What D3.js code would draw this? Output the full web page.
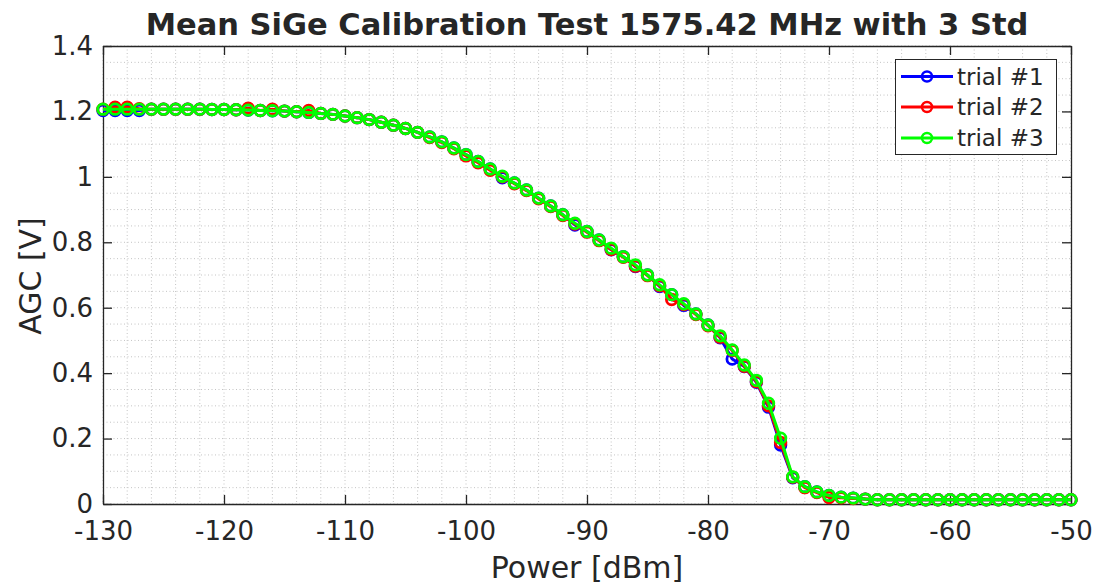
<!DOCTYPE html>
<html>
<head>
<meta charset="utf-8">
<script src="https://cdn.jsdelivr.net/npm/d3@7"></script>
<style>
  html, body { margin: 0; padding: 0; background: #fff; }
  svg { display: block; }
  text { font-family: "DejaVu Sans", sans-serif; fill: #262626; }
</style>
</head>
<body>
<svg id="chart" width="1098" height="586"></svg>
<script>
const titleText = "Mean SiGe Calibration Test 1575.42 MHz with 3 Std";
const xLabelText = "Power [dBm]";
const yLabelText = "AGC [V]";
const seriesNames = ["trial #1", "trial #2", "trial #3"];
const seriesColors = ["#0000ff", "#ff0000", "#00ff00"];

const xTicks = [-130, -120, -110, -100, -90, -80, -70, -60, -50];
const xTickLabels = ["-130", "-120", "-110", "-100", "-90", "-80", "-70", "-60", "-50"];
const yTicks = [0, 0.2, 0.4, 0.6, 0.8, 1, 1.2, 1.4];
const yTickLabels = ["0", "0.2", "0.4", "0.6", "0.8", "1", "1.2", "1.4"];

const power = [-130,-129,-128,-127,-126,-125,-124,-123,-122,-121,
  -120,-119,-118,-117,-116,-115,-114,-113,-112,-111,
  -110,-109,-108,-107,-106,-105,-104,-103,-102,-101,
  -100,-99,-98,-97,-96,-95,-94,-93,-92,-91,
  -90,-89,-88,-87,-86,-85,-84,-83,-82,-81,
  -80,-79,-78,-77,-76,-75,-74,-73,-72,-71,
  -70,-69,-68,-67,-66,-65,-64,-63,-62,-61,
  -60,-59,-58,-57,-56,-55,-54,-53,-52,-51,-50];

const trial1 = [1.203,1.203,1.203,1.203,1.207,1.207,1.207,1.207,1.207,1.206,
  1.206,1.205,1.204,1.203,1.202,1.201,1.199,1.197,1.194,1.191,
  1.186,1.181,1.175,1.167,1.158,1.148,1.136,1.122,1.107,1.088,
  1.068,1.047,1.024,0.997,0.981,0.960,0.935,0.911,0.884,0.853,
  0.833,0.807,0.777,0.756,0.726,0.700,0.665,0.640,0.607,0.581,
  0.547,0.508,0.443,0.420,0.372,0.296,0.180,0.080,0.053,0.037,
  0.026,0.021,0.018,0.015,0.013,0.013,0.013,0.013,0.013,0.013,
  0.013,0.013,0.013,0.013,0.013,0.013,0.013,0.013,0.013,0.013,0.013];

const trial2 = [1.207,1.213,1.213,1.208,1.207,1.207,1.207,1.207,1.207,1.206,
  1.206,1.205,1.210,1.203,1.207,1.201,1.199,1.203,1.194,1.191,
  1.186,1.181,1.175,1.167,1.158,1.148,1.136,1.120,1.105,1.086,
  1.064,1.043,1.020,1.000,0.979,0.958,0.933,0.909,0.882,0.856,
  0.831,0.805,0.778,0.754,0.727,0.698,0.667,0.625,0.610,0.579,
  0.545,0.510,0.469,0.421,0.374,0.300,0.188,0.082,0.050,0.035,
  0.020,0.019,0.017,0.015,0.013,0.013,0.013,0.013,0.013,0.013,
  0.013,0.013,0.013,0.013,0.013,0.013,0.013,0.013,0.013,0.013,0.013];

const trial3 = [1.207,1.207,1.207,1.207,1.207,1.207,1.207,1.207,1.207,1.206,
  1.206,1.205,1.204,1.203,1.202,1.201,1.199,1.197,1.194,1.191,
  1.186,1.181,1.175,1.167,1.158,1.148,1.136,1.122,1.107,1.088,
  1.068,1.047,1.024,1.002,0.981,0.960,0.935,0.911,0.884,0.858,
  0.833,0.807,0.782,0.756,0.731,0.700,0.670,0.640,0.612,0.581,
  0.547,0.514,0.471,0.425,0.378,0.308,0.201,0.083,0.053,0.037,
  0.026,0.021,0.018,0.015,0.013,0.013,0.013,0.013,0.013,0.013,
  0.013,0.013,0.013,0.013,0.013,0.013,0.013,0.013,0.013,0.013,0.013];

const allSeries = [trial1, trial2, trial3];

const svg = d3.select("#chart");
const L = 103, R = 1071, T = 46, B = 504;
const x = d3.scaleLinear().domain([-130, -50]).range([L, R]);
const y = d3.scaleLinear().domain([0, 1.4]).range([B, T]);
const axisColor = "#262626";

// grid (minor + major, dotted)
const gridX = d3.range(-130, -49, 2);
const gridY = d3.range(0, 1.4001, 0.05);
const grid = svg.append("g");
grid.selectAll("line.gx").data(gridX).join("line")
  .attr("x1", d => x(d)).attr("x2", d => x(d)).attr("y1", T).attr("y2", B)
  .attr("stroke", "#c4c4c4").attr("stroke-width", 1).attr("stroke-dasharray", "1,2.5");
grid.selectAll("line.gy").data(gridY).join("line")
  .attr("y1", d => y(d)).attr("y2", d => y(d)).attr("x1", L).attr("x2", R)
  .attr("stroke", "#c4c4c4").attr("stroke-width", 1).attr("stroke-dasharray", "1,2.5");

// axes
const tickLen = 9;
const xAxis = svg.append("g").attr("transform", `translate(0,${B})`)
  .call(d3.axisBottom(x).tickValues(xTicks).tickFormat((d, i) => xTickLabels[i])
    .tickSizeInner(-tickLen).tickSizeOuter(0).tickPadding(18));
const xAxisTop = svg.append("g").attr("transform", `translate(0,${T})`)
  .call(d3.axisTop(x).tickValues(xTicks).tickFormat("").tickSizeInner(-tickLen).tickSizeOuter(0));
const yAxis = svg.append("g").attr("transform", `translate(${L},0)`)
  .call(d3.axisLeft(y).tickValues(yTicks).tickFormat((d, i) => yTickLabels[i])
    .tickSizeInner(-tickLen).tickSizeOuter(0).tickPadding(10));
const yAxisRight = svg.append("g").attr("transform", `translate(${R},0)`)
  .call(d3.axisRight(y).tickValues(yTicks).tickFormat("").tickSizeInner(-tickLen).tickSizeOuter(0));

[xAxis, xAxisTop, yAxis, yAxisRight].forEach(g => {
  g.select(".domain").attr("stroke", axisColor).attr("stroke-width", 1.3);
  g.selectAll(".tick line").attr("stroke", axisColor).attr("stroke-width", 1.3);
  g.selectAll("text").attr("font-family", "DejaVu Sans").attr("font-size", 26).attr("fill", axisColor);
});
xAxis.selectAll("text").attr("dy", "0.71em");

// series
const line = d3.line().x((d, i) => x(power[i])).y(d => y(d));
allSeries.forEach((vals, k) => {
  const g = svg.append("g");
  g.append("path").datum(vals).attr("d", line)
    .attr("fill", "none").attr("stroke", seriesColors[k]).attr("stroke-width", 3)
    .attr("stroke-linejoin", "round");
  g.selectAll("circle").data(vals).join("circle")
    .attr("cx", (d, i) => x(power[i])).attr("cy", d => y(d)).attr("r", 5.3)
    .attr("fill", "none").attr("stroke", seriesColors[k]).attr("stroke-width", 2.8);
});

// title and labels
svg.append("text").attr("x", (L + R) / 2).attr("y", 35).attr("text-anchor", "middle")
  .attr("font-weight", "bold").attr("font-size", 30.5).attr("fill", "#000").text(titleText);
svg.append("text").attr("x", (L + R) / 2).attr("y", 578).attr("text-anchor", "middle")
  .attr("font-size", 30).attr("fill", axisColor).text(xLabelText);
svg.append("text").attr("transform", `translate(41,276) rotate(-90)`).attr("text-anchor", "middle")
  .attr("font-size", 30).attr("fill", axisColor).text(yLabelText);

// legend
const lg = svg.append("g");
lg.append("rect").attr("x", 895.5).attr("y", 59.5).attr("width", 161).attr("height", 95)
  .attr("fill", "#fff").attr("stroke", axisColor).attr("stroke-width", 1);
const legY = [76.5, 107, 138];
seriesNames.forEach((name, k) => {
  lg.append("line").attr("x1", 901).attr("x2", 953).attr("y1", legY[k]).attr("y2", legY[k])
    .attr("stroke", seriesColors[k]).attr("stroke-width", 3);
  lg.append("circle").attr("cx", 927).attr("cy", legY[k]).attr("r", 5)
    .attr("fill", "none").attr("stroke", seriesColors[k]).attr("stroke-width", 2.5);
  lg.append("text").attr("x", 957).attr("y", legY[k]).attr("dy", "0.35em")
    .attr("font-size", 23).attr("fill", "#000").text(name);
});
</script>
</body>
</html>
